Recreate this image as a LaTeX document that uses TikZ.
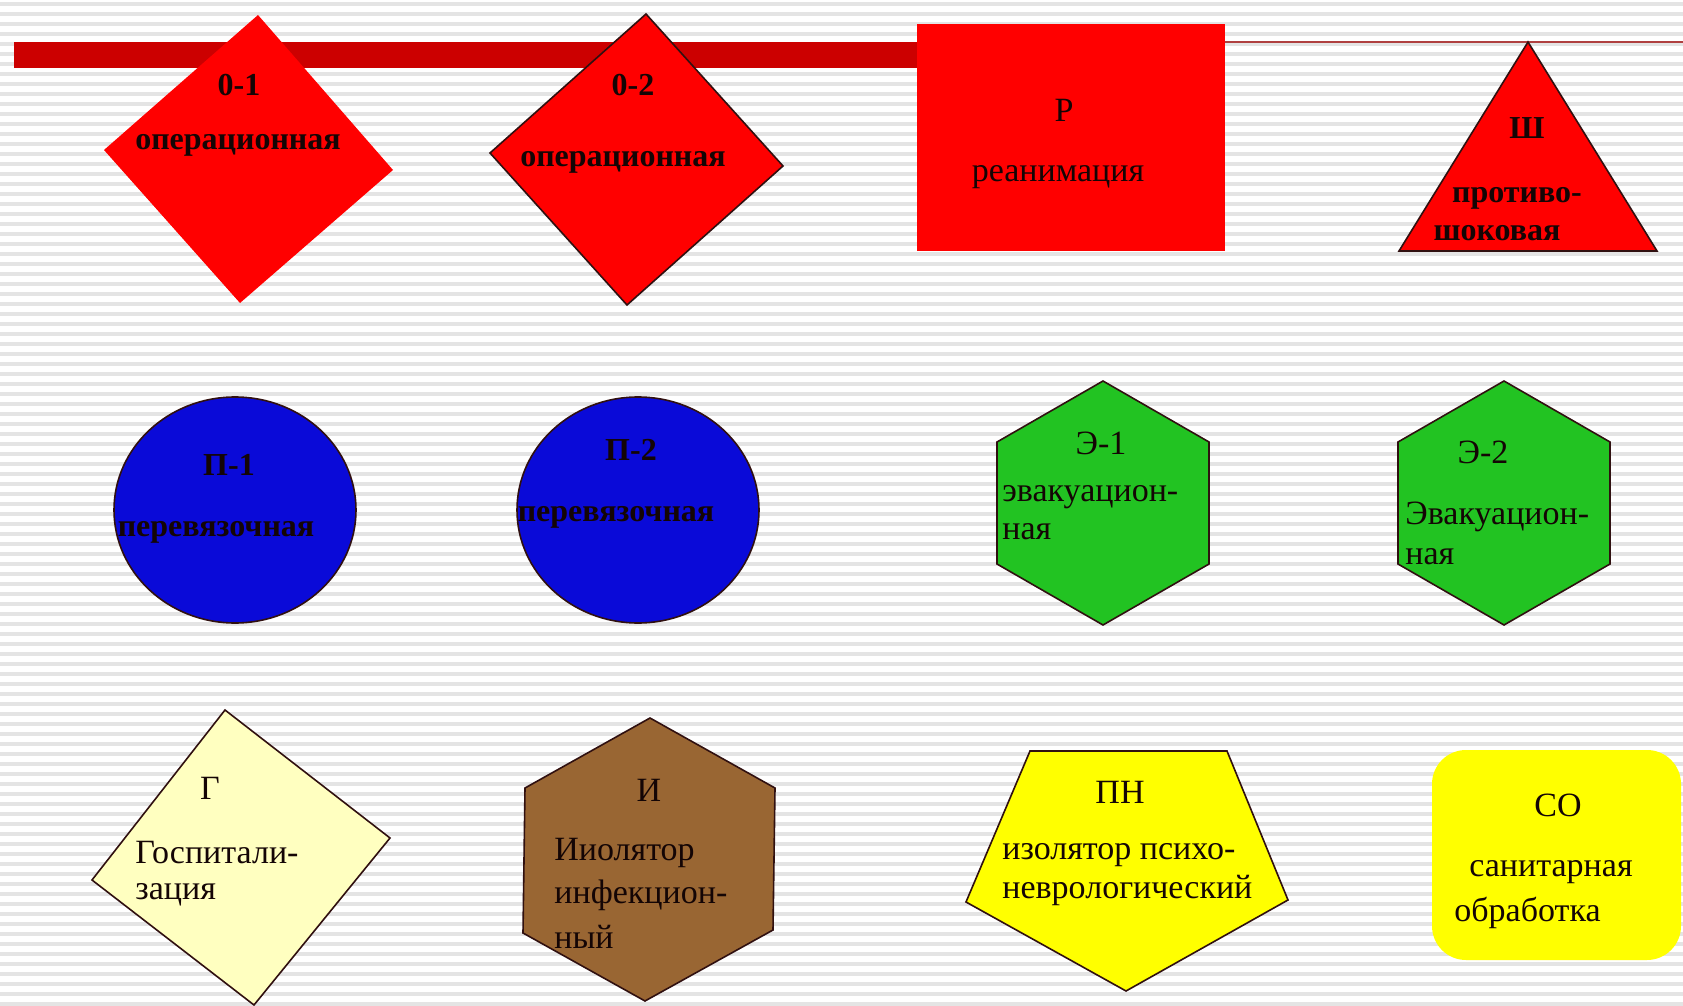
\documentclass[tikz,border=0pt]{standalone}
\usepackage{fontspec}
\setmainfont{Liberation Serif}
\definecolor{barred}{HTML}{CC0000}
\definecolor{thinred}{HTML}{B04040}
\definecolor{shred}{HTML}{FF0000}
\definecolor{shblue}{HTML}{0A0AD8}
\definecolor{shgreen}{HTML}{22C322}
\definecolor{shbrown}{HTML}{996633}
\definecolor{shlyellow}{HTML}{FFFFC0}
\definecolor{shyellow}{HTML}{FFFF00}
\definecolor{stripe}{HTML}{E4E4E4}
\definecolor{edge}{HTML}{301010}
\definecolor{txt}{HTML}{140505}
\begin{document}
\begin{tikzpicture}[x=0.5pt,y=-0.5pt,
  lab/.style={font=\fontsize{17}{20}\selectfont, inner sep=0pt, text=txt},
  blab/.style={font=\fontsize{16}{19}\selectfont\bfseries, inner sep=0pt, text=txt},
  outl/.style={draw=edge, line width=0.8pt, line join=miter},
  stripeline/.style={draw=stripe, line width=2pt}]
\useasboundingbox (0,0) rectangle (1683,1006);
\fill[white] (0,0) rectangle (1683,1006);
\foreach \yy in {4,14,...,1004} \draw[stripeline] (0,\yy) -- (1683,\yy);

% row 1
\fill[barred] (14,42) rectangle (920,68);
\draw[thinred, line width=1pt] (1225,42) -- (1683,42);
\fill[shred] (258,15) -- (393,170) -- (240,303) -- (104,150) -- cycle;
\filldraw[fill=shred, outl] (646,14) -- (783,166) -- (627,305) -- (490,153) -- cycle;
\fill[shred] (917,24) rectangle (1225,251);
\filldraw[fill=shred, outl] (1528,42) -- (1657,251) -- (1399,251) -- cycle;

\node[blab] (o1a) at (239,85) {0-1};
\node[blab] (o1b) at (238,145) {операционная};
\node[blab] (o2a) at (633,85) {0-2};
\node[blab] (o2b) at (623,162) {операционная};
\node[lab] (ra) at (1064,110) {Р};
\node[lab] (rb) at (1058,177) {реанимация};
\node[blab] (sha) at (1527,128) {Ш};
\node[blab] (shb) at (1517,198) {противо-};
\node[blab] (shc) at (1497,233) {шоковая};

% row 2
\filldraw[fill=shblue, outl] (235,510) ellipse [x radius=121, y radius=113];
\filldraw[fill=shblue, outl] (638,510) ellipse [x radius=121, y radius=113];
\filldraw[fill=shgreen, outl] (1103,381) -- (1209,442) -- (1209,564) -- (1103,625) -- (997,564) -- (997,442) -- cycle;
\filldraw[fill=shgreen, outl] (1504,381) -- (1610,442) -- (1610,564) -- (1504,625) -- (1398,564) -- (1398,442) -- cycle;

\node[blab] (p1a) at (229,465) {П-1};
\node[blab] (p1b) at (216,532) {перевязочная};
\node[blab] (p2a) at (631,450) {П-2};
\node[blab] (p2b) at (616,517) {перевязочная};
\node[lab] (e1a) at (1101,443) {Э-1};
\node[lab, anchor=west] (e1b) at (1002,497) {эвакуацион-};
\node[lab, anchor=west] (e1c) at (1002,532) {ная};
\node[lab] (e2a) at (1483,452) {Э-2};
\node[lab, anchor=west] (e2b) at (1405,517) {Эвакуацион-};
\node[lab, anchor=west] (e2c) at (1405,557) {ная};

% row 3
\filldraw[fill=shlyellow, outl] (225,710) -- (390,838) -- (254,1005) -- (92,880) -- cycle;
\filldraw[fill=shbrown, outl] (650,718) -- (775,788) -- (773,930) -- (645,1001) -- (523,933) -- (525,788) -- cycle;
\filldraw[fill=shyellow, outl] (1030,751) -- (1227,751) -- (1288,900) -- (1126,991) -- (966,902) -- cycle;
\fill[shyellow, rounded corners=17pt] (1432,750) rectangle (1681,960);

\node[lab] (ga) at (210,788) {Г};
\node[lab, anchor=west] (gb) at (135,853) {Госпитали-};
\node[lab, anchor=west] (gc) at (135,895) {зация};
\node[lab] (ia) at (649,790) {И};
\node[lab, anchor=west] (ib) at (554,853) {Ииолятор};
\node[lab, anchor=west] (ic) at (554,895) {инфекцион-};
\node[lab, anchor=west] (id) at (554,937) {ный};
\node[lab] (pna) at (1120,792) {ПН};
\node[lab, anchor=west] (pnb) at (1002,855) {изолятор психо-};
\node[lab, anchor=west] (pnc) at (1002,890) {неврологический};
\node[lab] (soa) at (1558,805) {СО};
\node[lab] (sob) at (1551,872) {санитарная};
\node[lab, anchor=west] (soc) at (1454,913) {обработка};
\end{tikzpicture}
\end{document}
